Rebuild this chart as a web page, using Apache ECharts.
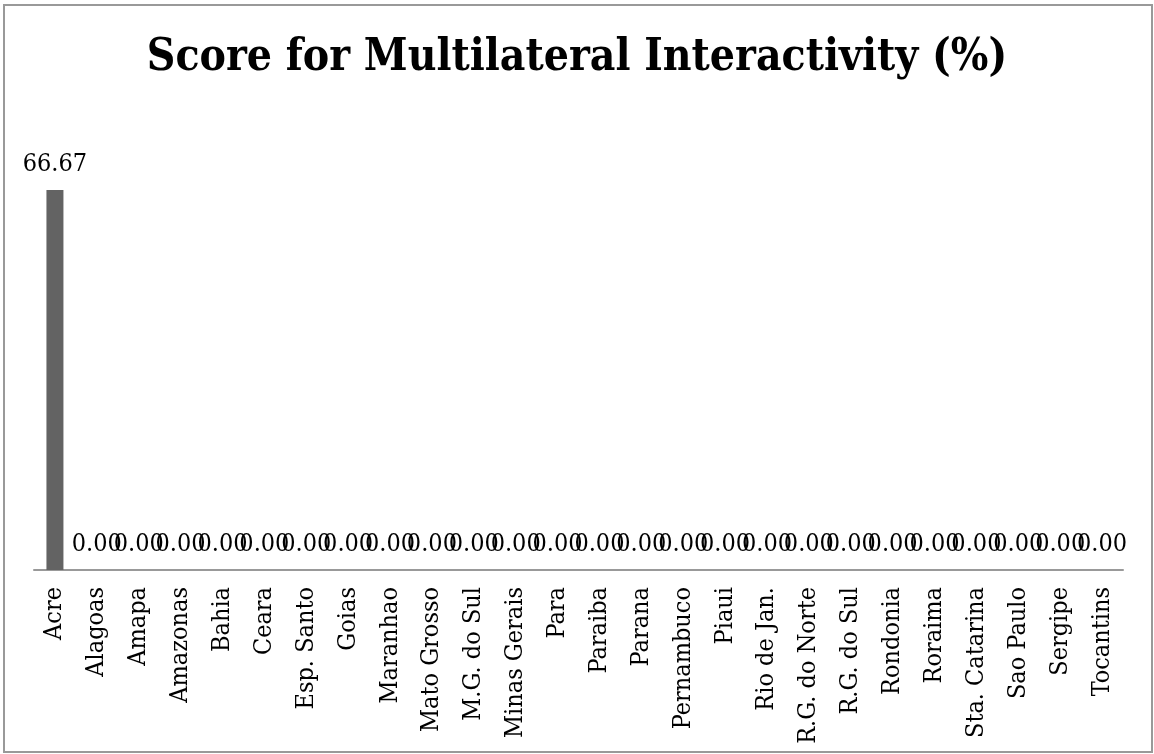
<!DOCTYPE html>
<html>
<head>
<meta charset="utf-8">
<script src="https://cdn.jsdelivr.net/npm/echarts@6/dist/echarts.min.js"></script>
<style>
  html, body { margin: 0; padding: 0; background: #fff; }
  #chart { width: 1154px; height: 754px; }
</style>
</head>
<body>
<div id="chart"></div>
<script>
// Brazilian states
const states = [
  'Acre', 'Alagoas', 'Amapa', 'Amazonas', 'Bahia', 'Ceara', 'Esp. Santo', 'Goias',
  'Maranhao', 'Mato Grosso', 'M.G. do Sul', 'Minas Gerais', 'Para', 'Paraiba',
  'Parana', 'Pernambuco', 'Piaui', 'Rio de Jan.', 'R.G. do Norte', 'R.G. do Sul',
  'Rondonia', 'Roraima', 'Sta. Catarina', 'Sao Paulo', 'Sergipe', 'Tocantins'
];

// Score for multilateral interactivity, percent
const scores = [
  66.67, 0, 0, 0, 0, 0, 0, 0, 0, 0, 0, 0, 0, 0, 0, 0, 0, 0, 0, 0, 0, 0, 0, 0, 0, 0
];

const chartTitle = 'Score for Multilateral Interactivity (%)';

const serif = '"DejaVu Serif Condensed", "Liberation Serif", serif';

const chart = echarts.init(document.getElementById('chart'), null, { renderer: 'canvas' });

chart.setOption({
  backgroundColor: '#ffffff',
  animation: false,
  title: {
    text: chartTitle,
    left: 'center',
    top: 32,
    textStyle: {
      fontFamily: serif,
      fontWeight: 'bold',
      fontSize: 44,
      color: '#000'
    }
  },
  graphic: [{
    type: 'rect',
    shape: { x: 4, y: 5, width: 1148, height: 747 },
    style: { fill: 'none', stroke: '#999', lineWidth: 2 },
    silent: true
  }],
  grid: { left: 34, right: 31, top: 114, bottom: 184 },
  xAxis: {
    type: 'category',
    data: states,
    axisLine: { show: true, lineStyle: { color: '#999', width: 2 } },
    axisTick: { show: false },
    axisLabel: {
      rotate: 90,
      interval: 0,
      margin: 17,
      fontFamily: serif,
      fontSize: 25,
      color: '#000'
    }
  },
  yAxis: {
    type: 'value',
    min: 0,
    max: 80,
    show: false,
    splitLine: { show: false }
  },
  series: [{
    type: 'bar',
    data: scores,
    barWidth: 17,
    itemStyle: { color: '#636363' },
    label: {
      show: true,
      position: 'top',
      distance: 13,
      formatter: p => p.value.toFixed(2),
      fontFamily: serif,
      fontSize: 25,
      color: '#000'
    }
  }]
});
</script>
</body>
</html>
